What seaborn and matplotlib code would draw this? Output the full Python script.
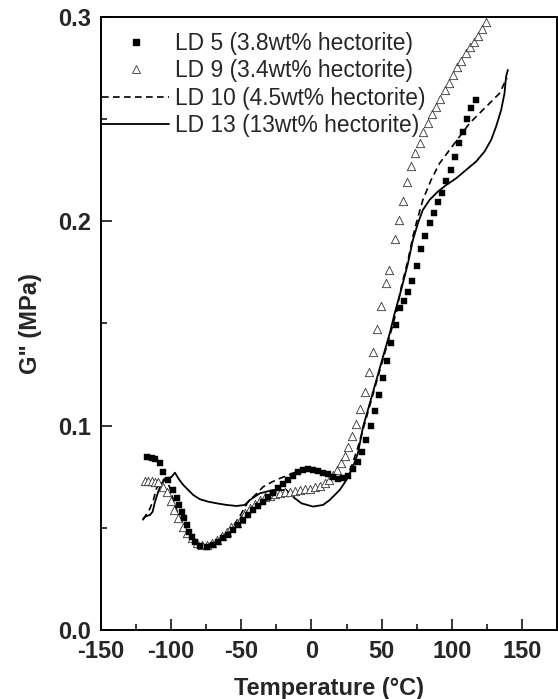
import matplotlib
matplotlib.use("Agg")
import matplotlib.pyplot as plt
from matplotlib.lines import Line2D
from matplotlib.ticker import MultipleLocator
import seaborn as sns
import pandas as pd

# ---------------- data ----------------
ld5_T = [-117.5, -114.0, -111.5, -108.0, -105.6, -102.1, -98.5, -96.1, -94.2, -92.5,
         -90.7, -88.9, -87.3, -85.4, -83.1, -79.5, -74.7, -70.1, -66.5, -63.0,
         -59.4, -55.9, -52.3, -48.7, -45.1, -41.5, -38.0, -34.4, -30.9, -27.3,
         -23.8, -20.2, -16.6, -13.1, -9.5, -6.0, -2.4, 1.1, 4.7, 8.2,
         11.8, 15.3, 18.9, 22.5, 26.0, 29.6, 33.0, 36.0, 39.0, 42.1,
         45.1, 48.2, 51.0, 54.0, 57.0, 60.0, 62.9, 65.9, 68.8, 71.9,
         75.2, 78.3, 81.2, 84.2, 87.1, 90.2, 93.3, 96.1, 99.1, 102.2,
         105.1, 108.0, 111.0, 113.9, 117.0]
ld5_G = [0.0845, 0.0840, 0.0835, 0.0819, 0.0775, 0.0734, 0.0685, 0.0645, 0.0612, 0.0579,
         0.0547, 0.0514, 0.0481, 0.0454, 0.0432, 0.0411, 0.0408, 0.0416, 0.0432, 0.0449,
         0.0465, 0.0489, 0.0514, 0.0538, 0.0563, 0.0587, 0.0607, 0.0628, 0.0653, 0.0672,
         0.0693, 0.0715, 0.0734, 0.0754, 0.0775, 0.0783, 0.0786, 0.0783, 0.0778, 0.0770,
         0.0762, 0.0750, 0.0741, 0.0742, 0.0754, 0.0786, 0.0824, 0.0870, 0.0930, 0.0999,
         0.1072, 0.1150, 0.1235, 0.1318, 0.1406, 0.1493, 0.1574, 0.1612, 0.1656, 0.1710,
         0.1782, 0.1863, 0.1929, 0.1991, 0.2043, 0.2094, 0.2141, 0.2195, 0.2252, 0.2317,
         0.2382, 0.2439, 0.2501, 0.2553, 0.2594]

ld9_T = [-118.7, -116.3, -114.0, -111.5, -109.2, -105.6, -103.2, -100.3, -98.0, -94.9,
         -91.4, -88.5, -85.4, -81.9, -78.3, -74.7, -71.2, -67.6, -64.1, -60.5,
         -57.0, -53.4, -50.2, -47.5, -44.0, -40.4, -36.8, -33.2, -29.6, -26.1,
         -22.5, -19.0, -15.4, -11.9, -8.3, -4.8, -1.2, 2.3, 5.9, 9.5,
         12.4, 15.3, 18.2, 21.3, 23.7, 26.0, 28.9, 32.0, 34.9, 37.9,
         41.0, 43.9, 47.0, 49.9, 52.9, 55.6, 59.3, 62.2, 65.2, 68.1,
         71.2, 73.6, 77.1, 79.4, 83.0, 86.1, 89.0, 91.9, 94.9, 97.9,
         100.8, 103.9, 106.8, 109.8, 112.7, 115.7, 118.6, 121.7, 124.5]
ld9_G = [0.0731, 0.0731, 0.0729, 0.0726, 0.0723, 0.0701, 0.0677, 0.0631, 0.0587, 0.0547,
         0.0506, 0.0473, 0.0449, 0.0427, 0.0416, 0.0416, 0.0424, 0.0441, 0.0460, 0.0481,
         0.0503, 0.0522, 0.0545, 0.0571, 0.0596, 0.0617, 0.0636, 0.0650, 0.0656, 0.0664,
         0.0669, 0.0674, 0.0677, 0.0682, 0.0685, 0.0689, 0.0692, 0.0698, 0.0706, 0.0718,
         0.0733, 0.0759, 0.0783, 0.0816, 0.0851, 0.0897, 0.0951, 0.1007, 0.1080, 0.1163,
         0.1261, 0.1359, 0.1472, 0.1586, 0.1697, 0.1760, 0.1912, 0.2006, 0.2101, 0.2191,
         0.2271, 0.2336, 0.2382, 0.2439, 0.2483, 0.2525, 0.2561, 0.2600, 0.2643, 0.2678,
         0.2716, 0.2754, 0.2786, 0.2822, 0.2855, 0.2879, 0.2907, 0.2940, 0.2977]

ld10_T = [-120.0, -118.7, -115.4, -112.7, -110.4, -106.8, -104.4, -102.7, -100.8, -98.5,
          -96.1, -92.5, -88.9, -85.4, -80.7, -75.9, -70.1, -63.0, -55.9, -49.9,
          -45.1, -40.2, -34.4, -28.0, -22.5, -15.8, -10.7, -5.7, -1.2, 2.4,
          7.5, 12.6, 17.7, 22.8, 25.8, 28.5, 33.2, 38.0, 42.7, 47.4,
          52.2, 57.0, 60.5, 64.1, 68.8, 72.3, 74.7, 79.4, 85.3, 91.3,
          98.4, 105.5, 112.7, 119.8, 127.0, 134.1, 137.5, 139.5]
ld10_G = [0.0540, 0.0555, 0.0590, 0.0636, 0.0694, 0.0726, 0.0742, 0.0725, 0.0694, 0.0636,
          0.0587, 0.0530, 0.0481, 0.0449, 0.0424, 0.0416, 0.0424, 0.0457, 0.0506, 0.0571,
          0.0628, 0.0660, 0.0701, 0.0725, 0.0742, 0.0760, 0.0775, 0.0783, 0.0786, 0.0782,
          0.0772, 0.0760, 0.0750, 0.0748, 0.0762, 0.0799, 0.0897, 0.1011, 0.1126, 0.1240,
          0.1354, 0.1468, 0.1558, 0.1681, 0.1810, 0.1925, 0.1991, 0.2105, 0.2203, 0.2284,
          0.2349, 0.2414, 0.2480, 0.2529, 0.2578, 0.2627, 0.2676, 0.2700]

ld13_T = [-120.0, -119.8, -117.5, -115.1, -113.2, -111.5, -109.2, -106.8, -104.4, -102.1,
          -99.6, -97.3, -94.9, -91.4, -87.8, -84.3, -79.5, -73.6, -67.6, -60.5,
          -53.4, -47.5, -44.0, -36.8, -27.3, -17.9, -11.9, -7.1, 1.1, 8.2,
          13.0, 20.1, 24.9, 29.6, 33.1, 36.8, 41.6, 46.3, 51.0, 55.8,
          59.3, 63.9, 68.8, 72.3, 75.9, 79.4, 84.2, 90.1, 96.1, 103.2,
          110.3, 117.4, 123.3, 128.1, 131.6, 135.2, 137.6, 138.7, 140.0]
ld13_G = [0.0540, 0.0547, 0.0558, 0.0563, 0.0579, 0.0628, 0.0677, 0.0718, 0.0734, 0.0742,
          0.0750, 0.0770, 0.0742, 0.0710, 0.0685, 0.0661, 0.0640, 0.0628, 0.0620, 0.0612,
          0.0607, 0.0612, 0.0636, 0.0669, 0.0685, 0.0685, 0.0645, 0.0620, 0.0604, 0.0612,
          0.0636, 0.0685, 0.0734, 0.0799, 0.0865, 0.0995, 0.1110, 0.1224, 0.1338, 0.1452,
          0.1550, 0.1664, 0.1795, 0.1909, 0.1991, 0.2056, 0.2105, 0.2146, 0.2178, 0.2211,
          0.2252, 0.2293, 0.2341, 0.2399, 0.2464, 0.2545, 0.2627, 0.2708, 0.2741]

labels = ["LD 5 (3.8wt% hectorite)", "LD 9 (3.4wt% hectorite)",
          "LD 10 (4.5wt% hectorite)", "LD 13 (13wt% hectorite)"]

x_ticks = [-150, -100, -50, 0, 50, 100, 150]
y_ticks = [0.0, 0.1, 0.2, 0.3]
x_label = "Temperature (°C)"
y_label = 'G" (MPa)'

# ---------------- style ----------------
sns.set_style("ticks")
plt.rcParams["font.family"] = ["Liberation Sans", "DejaVu Sans"]

fig = plt.figure(figsize=(5.58, 6.99), dpi=100)
ax = fig.add_axes([101 / 558, 1 - 630 / 699, (557 - 101) / 558, (630 - 17) / 699])

df5 = pd.DataFrame({"T": ld5_T, "G": ld5_G})
df9 = pd.DataFrame({"T": ld9_T, "G": ld9_G})
df10 = pd.DataFrame({"T": ld10_T, "G": ld10_G})
df13 = pd.DataFrame({"T": ld13_T, "G": ld13_G})

dash = (0, (4, 2.6))
sns.lineplot(data=df13, x="T", y="G", ax=ax, color="black", lw=1.3,
             estimator=None, sort=False, zorder=2)
sns.lineplot(data=df10, x="T", y="G", ax=ax, color="black", lw=1.2,
             linestyle=dash, estimator=None, sort=False, zorder=2)
sns.scatterplot(data=df9, x="T", y="G", ax=ax, marker="^", s=36,
                facecolor="white", edgecolor="#333333", linewidth=0.6, zorder=3)
sns.scatterplot(data=df5, x="T", y="G", ax=ax, marker="s", s=24,
                color="black", edgecolor="black", linewidth=0.3, zorder=4)

ax.set_xlim(-150, 175)
ax.set_ylim(0, 0.3)
ax.set_xticks(x_ticks)
ax.set_yticks(y_ticks)
ax.set_xticklabels([str(v) for v in x_ticks])
ax.set_yticklabels([f"{v:.1f}" for v in y_ticks])
ax.xaxis.set_minor_locator(MultipleLocator(25))
ax.yaxis.set_minor_locator(MultipleLocator(0.05))
ax.tick_params(which="major", direction="in", length=8, width=1.3,
               labelsize=17, top=False, right=False)
ax.tick_params(which="minor", direction="in", length=4.5, width=1.3,
               top=False, right=False)
ax.tick_params(axis="x", which="major", pad=7)
ax.tick_params(axis="y", which="major", pad=7)
for lab in ax.get_xticklabels() + ax.get_yticklabels():
    lab.set_fontweight("bold")
for sp in ax.spines.values():
    sp.set_visible(True)
    sp.set_linewidth(1.4)
    sp.set_color("black")

ax.set_xlabel(x_label, fontsize=17, fontweight="bold", labelpad=10)
ax.set_ylabel(y_label, fontsize=17, fontweight="bold", labelpad=12)

handles = [
    Line2D([], [], ls="none", marker="s", markersize=4.8, color="black"),
    Line2D([], [], ls="none", marker="^", markersize=5.5, markerfacecolor="white",
           markeredgecolor="#333333", markeredgewidth=0.6),
    Line2D([], [], color="black", lw=1.2, linestyle=dash),
    Line2D([], [], color="black", lw=1.3),
]
ax.legend(handles, labels, loc="upper left", bbox_to_anchor=(0.002, 0.975),
          frameon=False, fontsize=16.4, handlelength=2.95, handletextpad=0.25,
          labelspacing=0.18, borderaxespad=0.0, borderpad=0.0)

fig.savefig("out.png", dpi=100)
